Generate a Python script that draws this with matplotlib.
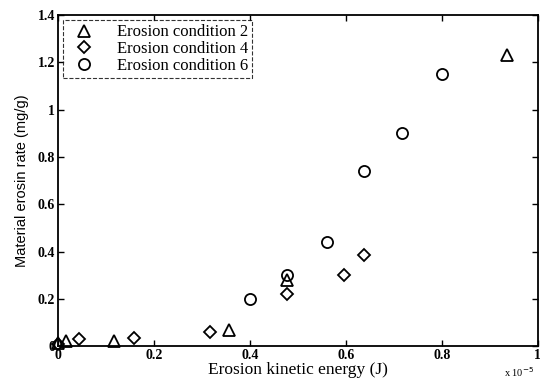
import matplotlib.pyplot as plt

# energy in units of 1e-5 J, rate in mg/g
cond2_x = [0.0, 0.018, 0.117, 0.357, 0.478, 0.935]
cond2_y = [0.015, 0.02, 0.02, 0.07, 0.28, 1.23]

cond4_x = [0.0, 0.044, 0.158, 0.318, 0.478, 0.597, 0.638]
cond4_y = [0.01, 0.03, 0.035, 0.06, 0.22, 0.30, 0.385]

cond6_x = [0.40, 0.478, 0.56, 0.638, 0.717, 0.80]
cond6_y = [0.20, 0.30, 0.44, 0.74, 0.90, 1.15]

labels = ["Erosion condition 2", "Erosion condition 4", "Erosion condition 6"]

plt.rcParams['font.family'] = ['Liberation Serif', 'DejaVu Serif']

fig = plt.figure(figsize=(5.4, 3.8), dpi=100)
ax = fig.add_axes([0.107, 0.089, 0.889, 0.871])

style = dict(linestyle='none', markerfacecolor='none', markeredgecolor='black',
             markeredgewidth=1.3, markersize=8, clip_on=False)
ax.plot(cond2_x, cond2_y, marker='^', label=labels[0], **style)
ax.plot(cond4_x, cond4_y, marker='D', label=labels[1], **dict(style, markersize=6.5))
ax.plot(cond6_x, cond6_y, marker='o', label=labels[2], **style)

ax.set_xlim(0, 1)
ax.set_ylim(0, 1.4)
ax.set_xticks([0, 0.2, 0.4, 0.6, 0.8, 1])
ax.set_xticklabels(["0", "0.2", "0.4", "0.6", "0.8", "1"])
ax.set_yticks([0, 0.2, 0.4, 0.6, 0.8, 1, 1.2, 1.4])
ax.set_yticklabels(["0", "0.2", "0.4", "0.6", "0.8", "1", "1.2", "1.4"])
ax.tick_params(direction='in', top=True, right=True, length=4, width=1,
               labelsize=10, pad=2)
for lab in ax.get_xticklabels() + ax.get_yticklabels():
    lab.set_fontweight('bold')
for s in ax.spines.values():
    s.set_linewidth(1.3)

ax.set_xlabel("Erosion kinetic energy (J)", fontsize=12.5, labelpad=0)
ax.set_ylabel("Material erosin rate (mg/g)", fontsize=10.5, labelpad=6,
              family=['Liberation Sans', 'DejaVu Sans'])
ax.text(0.93, -0.058, r"x 10$^{-5}$", transform=ax.transAxes, fontsize=7.5,
        ha='left', va='top')

leg = ax.legend(loc='upper left', fontsize=12, frameon=True, fancybox=False,
                borderaxespad=0.3, labelspacing=0.05, handletextpad=1.0,
                borderpad=0.25, handlelength=2.0)
leg.get_frame().set_edgecolor('black')
leg.get_frame().set_linestyle('--')
leg.get_frame().set_linewidth(0.8)

fig.savefig("out.png", dpi=100)
